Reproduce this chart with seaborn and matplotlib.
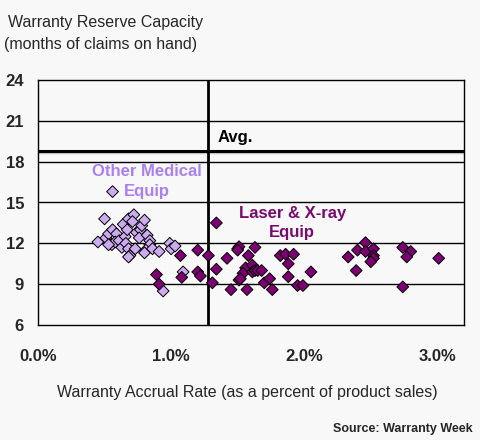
import pandas as pd
import matplotlib
matplotlib.use("Agg")
import matplotlib.pyplot as plt
from matplotlib.ticker import MultipleLocator, FuncFormatter
import seaborn as sns

# Other Medical Equip (accrual rate %, months of claims)
other_x = [0.56, 0.50, 0.45, 0.51, 0.53, 0.56, 0.555, 0.59, 0.58, 0.61, 0.63, 0.64,
           0.655, 0.67, 0.68, 0.72, 0.71, 0.66, 0.68, 0.69, 0.68, 0.73, 0.74, 0.77,
           0.78, 0.80, 0.76, 0.82, 0.84, 0.84, 0.81, 0.80, 0.86, 0.91, 0.53, 0.99,
           1.00, 1.03, 1.09, 0.94]
other_y = [15.8, 13.8, 12.1, 12.4, 12.7, 13.0, 11.9, 12.7, 12.1, 12.2, 11.7, 13.4,
           12.5, 13.0, 13.8, 14.1, 13.6, 12.0, 11.6, 11.1, 11.0, 11.6, 12.8, 13.0,
           13.3, 13.7, 12.4, 12.6, 12.2, 11.9, 11.5, 11.3, 11.6, 11.4, 11.9, 12.0,
           11.6, 11.8, 9.9, 8.5]

# Laser & X-ray Equip
laser_x = [1.07, 0.89, 0.91, 1.08, 1.20, 1.20, 1.22, 1.28, 1.31, 1.34, 1.34, 1.42,
           1.45, 1.50, 1.51, 1.51, 1.50, 1.63, 1.58, 1.57, 1.56, 1.54, 1.52, 1.61,
           1.61, 1.63, 1.65, 1.68, 1.70, 1.74, 1.76, 1.82, 1.86, 1.92, 1.88, 1.88,
           1.95, 1.99, 2.05, 2.33, 2.39, 2.40, 2.46, 2.46, 2.52, 2.52, 2.52, 2.50,
           2.74, 2.80, 2.77, 3.01, 2.74]
laser_y = [11.1, 9.7, 9.0, 9.5, 11.5, 9.9, 9.6, 11.1, 9.1, 13.5, 10.1, 10.9,
           8.6, 11.6, 9.3, 11.75, 11.5, 11.7, 11.1, 8.6, 10.2, 9.8, 9.4, 10.4,
           9.9, 10.0, 10.0, 10.0, 9.1, 9.4, 8.6, 11.1, 11.2, 11.2, 10.5, 9.55,
           8.9, 8.9, 9.9, 11.0, 10.0, 11.5, 12.05, 11.4, 11.6, 11.1, 10.9, 10.65,
           11.7, 11.4, 11.0, 10.9, 8.8]

avg_rate = 1.28
avg_months = 18.8

df = pd.DataFrame({
    "rate": other_x + laser_x,
    "months": other_y + laser_y,
    "group": ["Other Medical Equip"] * len(other_x) + ["Laser & X-ray Equip"] * len(laser_x),
})

bg = "#F8F8F8"
sns.set_style("white")
plt.rcParams["font.family"] = ["Liberation Sans", "DejaVu Sans"]

fig = plt.figure(figsize=(4.8, 4.4), dpi=100, facecolor=bg)
ax = fig.add_axes([38 / 480, 115 / 440, 426 / 480, 245 / 440])
ax.set_facecolor(bg)

# grid lines
for v in [9, 12, 15, 18, 21]:
    ax.axhline(v, color="black", lw=1.0, zorder=1)
ax.axhline(avg_months - 0.12, color="#C8C8C8", lw=2.5, zorder=1)
ax.axhline(avg_months, color="black", lw=2.2, zorder=2)
ax.axvline(avg_rate, color="black", lw=2.0, zorder=2)

sns.scatterplot(data=df, x="rate", y="months", hue="group",
                palette={"Other Medical Equip": "#CCABF0", "Laser & X-ray Equip": "#7D0072"},
                marker="D", s=36, edgecolor="black", linewidth=0.7,
                legend=False, ax=ax, zorder=3)

ax.set_xlim(0, 3.2)
ax.set_ylim(6, 24)
ax.xaxis.set_major_locator(MultipleLocator(1.0))
ax.xaxis.set_minor_locator(MultipleLocator(0.2))
ax.yaxis.set_major_locator(MultipleLocator(3))
ax.yaxis.set_minor_locator(MultipleLocator(1))
ax.xaxis.set_major_formatter(FuncFormatter(lambda v, p: f"{v:.1f}%"))
ax.tick_params(axis="x", which="major", direction="inout", length=10, width=1, pad=12)
ax.tick_params(axis="x", which="minor", direction="out", length=4, width=1)
ax.tick_params(axis="y", which="both", direction="out", length=4, width=1, pad=6)
ax.tick_params(labelsize=12)
for lab in ax.get_xticklabels() + ax.get_yticklabels():
    lab.set_fontweight("bold")
for sp in ax.spines.values():
    sp.set_visible(True)
    sp.set_color("black")
    sp.set_linewidth(1.0)

ax.set_xlabel("")
ax.set_ylabel("")

ax.text(1.35, 19.75, "Avg.", fontsize=12, fontweight="bold", color="black", va="center")
ax.text(0.82, 16.55, "Other Medical\nEquip", fontsize=12, fontweight="bold", color="#A97FF2",
        ha="center", va="center", linespacing=1.45)
ax.text(1.91, 13.5, "Laser & X-ray\nEquip", fontsize=12, fontweight="bold", color="#7A0A6E",
        ha="center", va="center", linespacing=1.4)

fig.text(8 / 480, 1 - 22 / 440, "Warranty Reserve Capacity", fontsize=11.5, va="center")
fig.text(4 / 480, 1 - 44 / 440, "(months of claims on hand)", fontsize=11.5, va="center")
fig.text(247 / 480, 1 - 392 / 440, "Warranty Accrual Rate (as a percent of product sales)",
         fontsize=11.5, ha="center", va="center")
fig.text(473 / 480, 1 - 429 / 440, "Source: Warranty Week", fontsize=9, fontweight="bold",
         ha="right", va="center")

fig.savefig("out.png", dpi=100, facecolor=bg)
